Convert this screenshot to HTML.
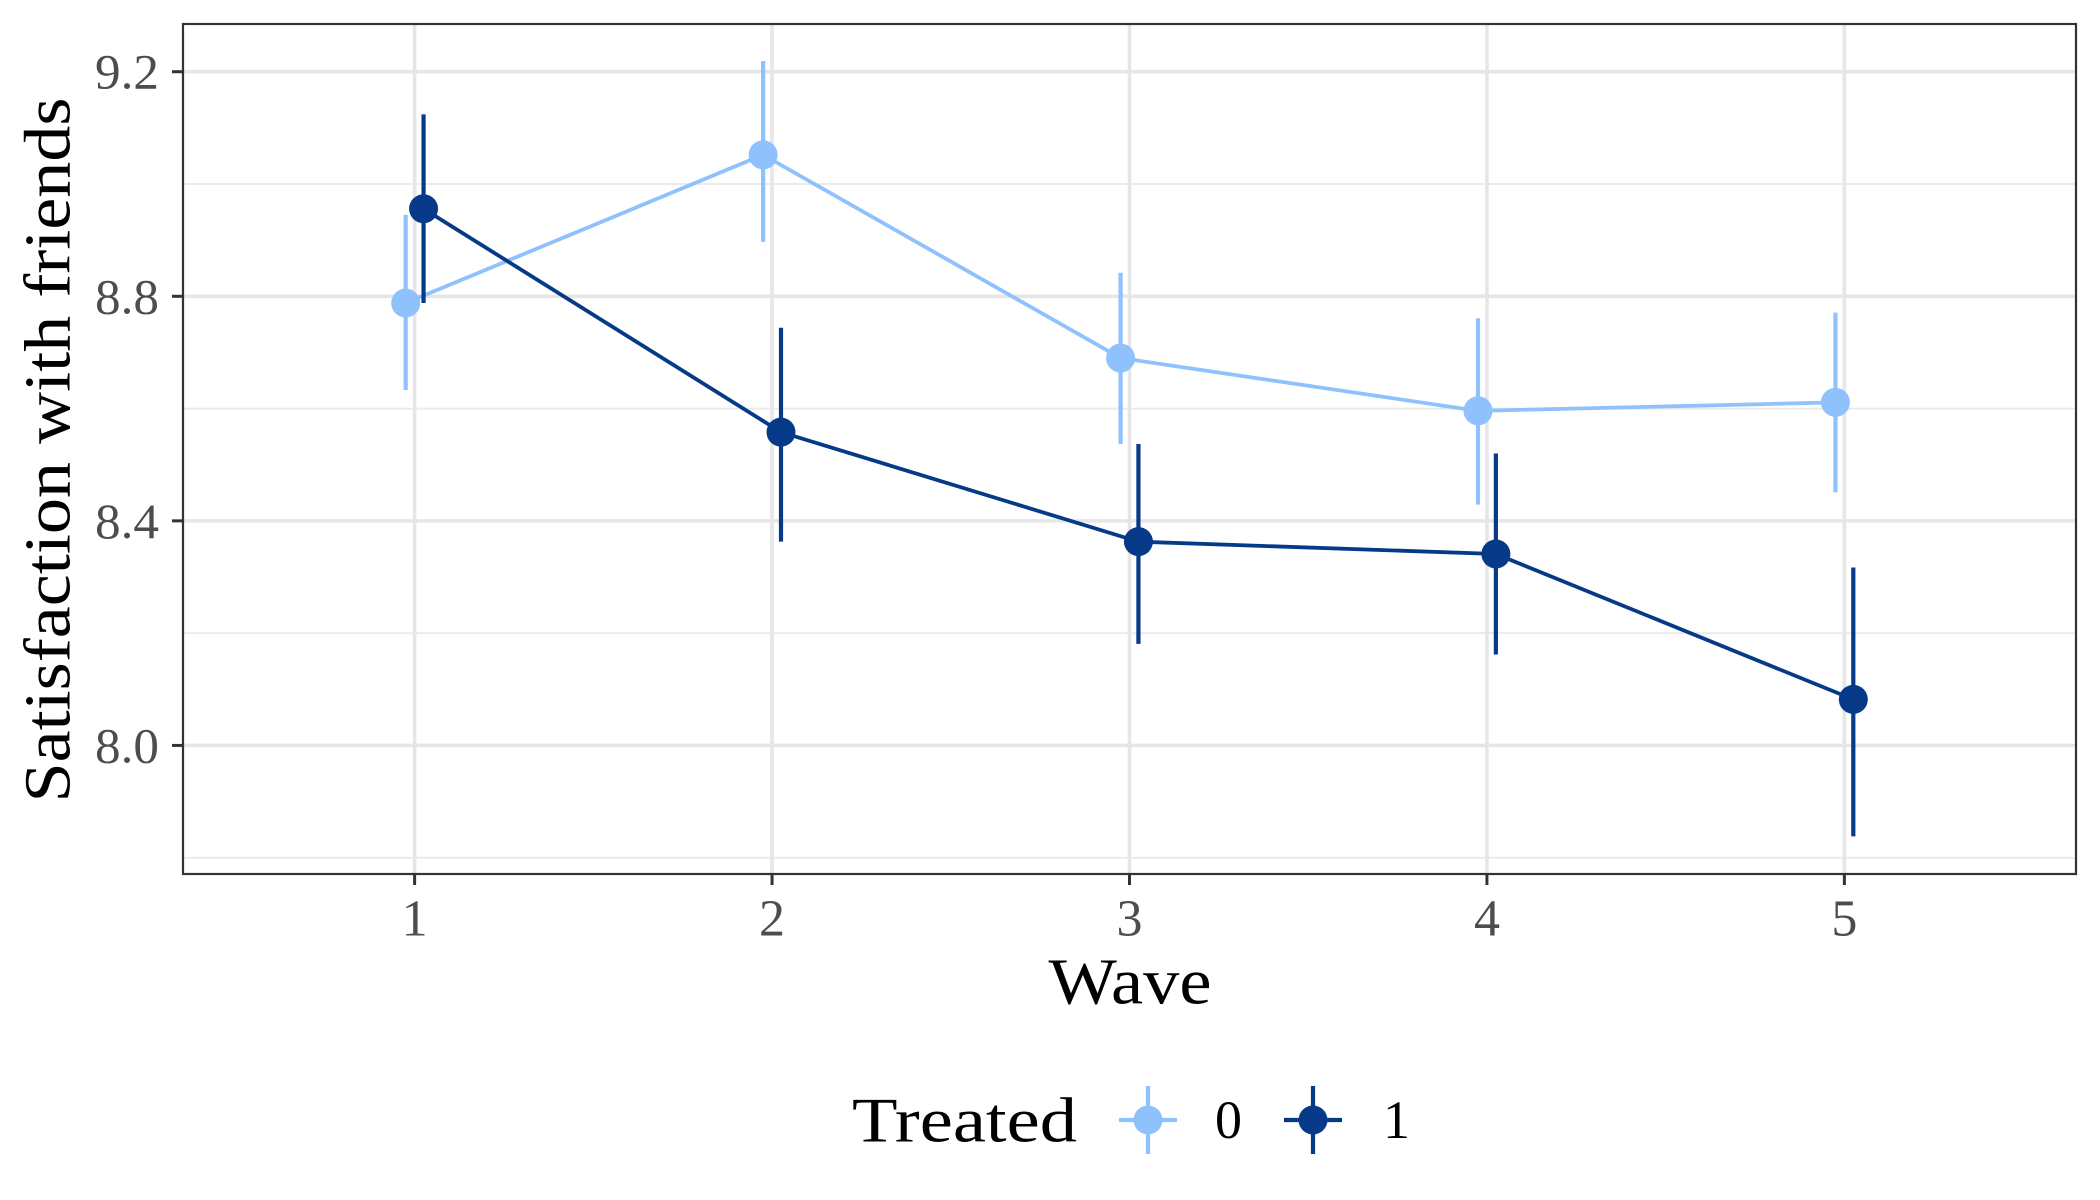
<!DOCTYPE html>
<html><head><meta charset="utf-8"><style>
html,body{margin:0;padding:0;background:#fff;}
svg{display:block;font-family:"Liberation Serif",serif;}
</style></head><body>
<svg id="chart" width="2100" height="1200" viewBox="0 0 2100 1200">
<rect x="0" y="0" width="2100" height="1200" fill="#fff"/>
<g id="grid"></g>
<g id="marks"></g>
<rect x="183" y="24" width="1893" height="850" fill="none" stroke="#333" stroke-width="2.2"/>
<g id="axes"></g>
<text x="48" y="450" transform="rotate(-90 48 450)" text-anchor="middle" font-size="66" fill="#000" dominant-baseline="central" textLength="705" lengthAdjust="spacingAndGlyphs">Satisfaction with friends</text>
<text x="1130" y="982" text-anchor="middle" font-size="66" fill="#000" dominant-baseline="central" textLength="163" lengthAdjust="spacingAndGlyphs">Wave</text>
<g id="legend">
<text x="852" y="1120" font-size="64" fill="#000" dominant-baseline="central" textLength="225" lengthAdjust="spacingAndGlyphs">Treated</text>
</g>
</svg>
<script>
const waves = [1, 2, 3, 4, 5];
const yTicks = [8.0, 8.4, 8.8, 9.2];
const yTickLabels = ["8.0", "8.4", "8.8", "9.2"];
const yMinor = [7.8, 8.2, 8.6, 9.0];
const t0Mean = [8.788, 9.052, 8.690, 8.596, 8.611];
const t0Upper = [8.945, 9.219, 8.842, 8.761, 8.771];
const t0Lower = [8.633, 8.897, 8.537, 8.429, 8.451];
const t1Mean = [8.956, 8.558, 8.363, 8.341, 8.082];
const t1Upper = [9.124, 8.744, 8.537, 8.520, 8.317];
const t1Lower = [8.788, 8.363, 8.181, 8.162, 7.838];
const groups = ["0", "1"];

const NS = "http://www.w3.org/2000/svg";
const X0 = 183, X1 = 2076, Y0 = 24, Y1 = 874;
const xDom = [0.352, 5.648], yDom = [7.771, 9.285];
function xs(v){ return X0 + (v - xDom[0]) / (xDom[1] - xDom[0]) * (X1 - X0); }
function ys(v){ return Y1 - (v - yDom[0]) / (yDom[1] - yDom[0]) * (Y1 - Y0); }
function mk(tag, attrs, parent){ const e = document.createElementNS(NS, tag); for (const k in attrs) e.setAttribute(k, attrs[k]); parent.appendChild(e); return e; }

const grid = document.getElementById('grid');
yMinor.forEach(v => {
  const l = mk('line', {x1: X0, x2: X1, y1: ys(v), y2: ys(v), stroke: '#ebebeb', 'stroke-width': 2}, grid);
  
  
});
yTicks.forEach(v => {
  const l = mk('line', {x1: X0, x2: X1, y1: ys(v), y2: ys(v), stroke: '#e6e6e6', 'stroke-width': 3.6}, grid);
  
  
});
waves.forEach(w => {
  const l = mk('line', {x1: xs(w), x2: xs(w), y1: Y0, y2: Y1, stroke: '#e6e6e6', 'stroke-width': 3.6}, grid);
  
  
});

const axes = document.getElementById('axes');
yTicks.forEach((v, i) => {
  const t = mk('line', {x1: 172, x2: 183, y1: ys(v), y2: ys(v), stroke: '#333', 'stroke-width': 3}, axes);
  
  
  const tx = mk('text', {x: 95, y: ys(v), 'text-anchor': 'start', 'dominant-baseline': 'central', 'font-size': 50, fill: '#4d4d4d', textLength: 64, lengthAdjust: 'spacingAndGlyphs'}, axes);
  tx.textContent = yTickLabels[i];
  
  
});
waves.forEach(w => {
  const t = mk('line', {x1: xs(w), x2: xs(w), y1: Y1, y2: 885, stroke: '#333', 'stroke-width': 3}, axes);
  
  
  const tx = mk('text', {x: xs(w), y: 919, 'text-anchor': 'middle', 'dominant-baseline': 'central', 'font-size': 52, fill: '#4d4d4d'}, axes);
  tx.textContent = String(w);
  
  
});

const marks = document.getElementById('marks');
const series = [
  {name: 'treated-0', color: '#8fc1fd', mean: t0Mean, up: t0Upper, lo: t0Lower, dodge: -0.025},
  {name: 'treated-1', color: '#063a88', mean: t1Mean, up: t1Upper, lo: t1Lower, dodge: 0.025}
];
series.forEach(s => {
  const g = mk('g', {}, marks);
  
  
  const pts = waves.map((w, i) => xs(w + s.dodge) + ',' + ys(s.mean[i])).join(' ');
  const pl = mk('polyline', {points: pts, fill: 'none', stroke: s.color, 'stroke-width': 3.8}, g);
  
  
  waves.forEach((w, i) => {
    const e = mk('line', {x1: xs(w + s.dodge), x2: xs(w + s.dodge), y1: ys(s.up[i]), y2: ys(s.lo[i]), stroke: s.color, 'stroke-width': 4.2}, g);
    
    
    const c = mk('circle', {cx: xs(w + s.dodge), cy: ys(s.mean[i]), r: 14.5, fill: s.color}, g);
    
    
  });
});

const legend = document.getElementById('legend');
const keyX = [1148, 1313], labX = [1215, 1383];
groups.forEach((gname, i) => {
  const col = series[i].color;
  const g = mk('g', {}, legend);
  
  
  mk('line', {x1: keyX[i] - 29, x2: keyX[i] + 29, y1: 1120, y2: 1120, stroke: col, 'stroke-width': 4.2}, g);
  mk('line', {x1: keyX[i], x2: keyX[i], y1: 1086, y2: 1154, stroke: col, 'stroke-width': 4.2}, g);
  mk('circle', {cx: keyX[i], cy: 1120, r: 14.5, fill: col}, g);
  const t = mk('text', {x: labX[i], y: 1120, 'dominant-baseline': 'central', 'font-size': 54, fill: '#000'}, g);
  t.textContent = gname;
  
  
});
</script>
</body></html>
